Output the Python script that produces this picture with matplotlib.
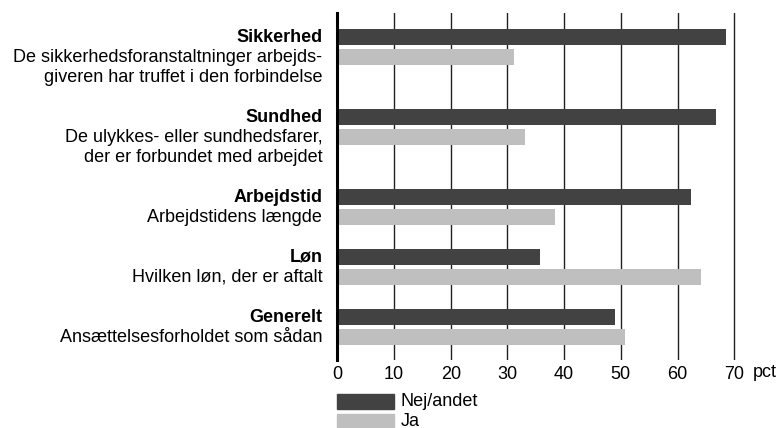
import matplotlib
matplotlib.use('Agg')
import matplotlib.pyplot as plt
from matplotlib.patches import Rectangle

plt.rcParams['font.family'] = ['Liberation Sans', 'DejaVu Sans']

# data
titles = ['Sikkerhed', 'Sundhed', 'Arbejdstid', 'Løn', 'Generelt']
subtitles = [
    ['De sikkerhedsforanstaltninger arbejds-', 'giveren har truffet i den forbindelse'],
    ['De ulykkes- eller sundhedsfarer,', 'der er forbundet med arbejdet'],
    ['Arbejdstidens længde'],
    ['Hvilken løn, der er aftalt'],
    ['Ansættelsesforholdet som sådan'],
]
nej_andet = [68.6, 66.8, 62.4, 35.7, 49.0]
ja = [31.2, 33.1, 38.4, 64.2, 50.7]
xticks = [0, 10, 20, 30, 40, 50, 60, 70]
series_labels = ['Nej/andet', 'Ja']

dark = '#424242'
light = '#bfbfbf'
fs = 13

fig = plt.figure(figsize=(7.79, 4.28), dpi=100)
# x: 0..70.5 -> 337.3..737.1 px (10 units = 56.7 px)
ax = fig.add_axes([337.3 / 779, 1 - 360 / 428, 70.5 * 5.67 / 779, (360 - 13) / 428])

# y in "line" units (one text line = one bar pitch), top to bottom
starts = []
pos = 0
for subs in subtitles:
    starts.append(pos)
    pos += len(subs) + 2

bar_h = 0.78
for i, s in enumerate(starts):
    ax.barh(s, nej_andet[i], height=bar_h, color=dark, left=0, zorder=3)
    ax.barh(s + 1, ja[i], height=bar_h, color=light, left=0, zorder=3)
    ax.annotate(titles[i], xy=(0, s), xycoords=('axes fraction', 'data'),
                xytext=(-15, 0), textcoords='offset pixels',
                ha='right', va='center', fontsize=fs, fontweight='bold')
    for j, sub in enumerate(subtitles[i]):
        ax.annotate(sub, xy=(0, s + 1 + j), xycoords=('axes fraction', 'data'),
                    xytext=(-15, 0), textcoords='offset pixels',
                    ha='right', va='center', fontsize=fs)

ax.set_xlim(0, 70.5)
ax.set_ylim(16.15, -1.2)
ax.set_xticks(xticks)
ax.set_xticklabels([str(t) for t in xticks], fontsize=fs)
ax.tick_params(axis='x', length=0, pad=4)
ax.set_yticks([])
for sp in ['top', 'right', 'bottom']:
    ax.spines[sp].set_visible(False)
ax.spines['left'].set_linewidth(2.2)
ax.spines['left'].set_color('black')
ax.spines['left'].set_zorder(4)
ax.grid(axis='x', color='#222222', linewidth=1, zorder=1)
ax.set_axisbelow(True)
ax.annotate('pct', xy=(70, 16.15), xycoords='data', xytext=(19, -4),
            textcoords='offset pixels', ha='left', va='top', fontsize=fs)

# legend
for k, (lab, col) in enumerate(zip(series_labels, [dark, light])):
    yy = 18.2 + k
    ax.add_patch(Rectangle((0, yy - 0.375), 10, 0.75, color=col, clip_on=False))
    ax.text(11.2, yy, lab, ha='left', va='center', fontsize=fs, clip_on=False)

fig.savefig('out.png', dpi=100)
